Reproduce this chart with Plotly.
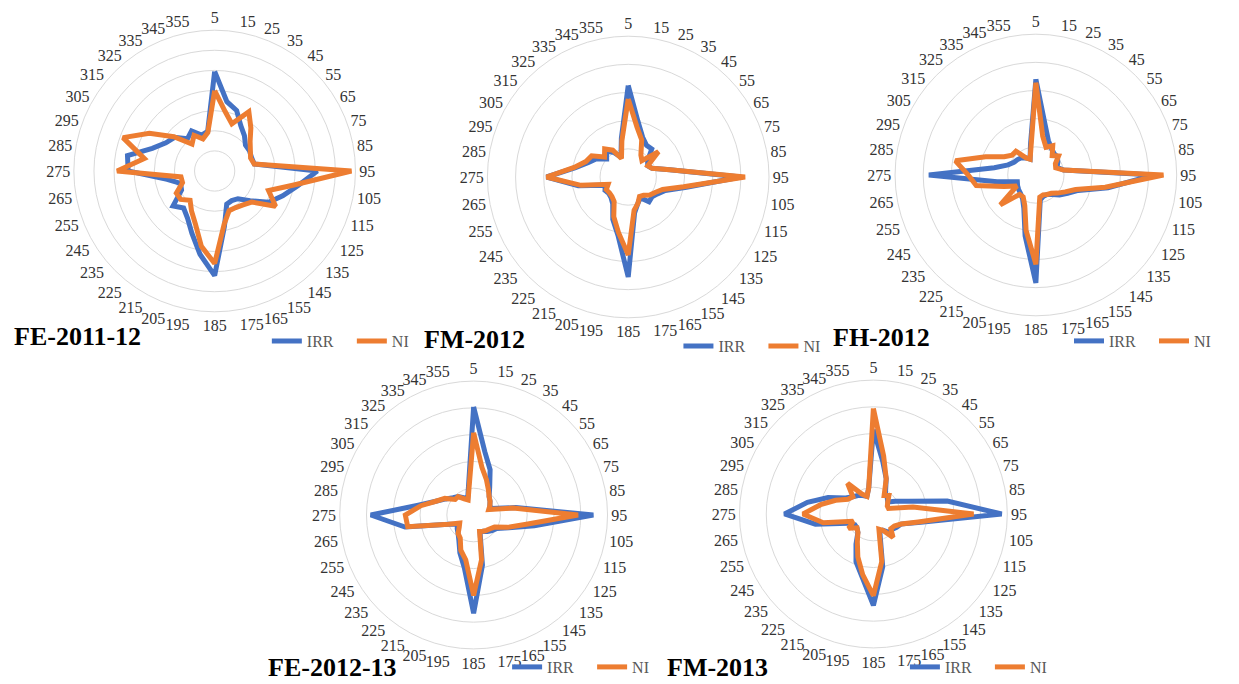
import plotly.graph_objects as go

# ---------------- data ----------------
directions = ["5", "15", "25", "35", "45", "55", "65", "75", "85", "95",
              "105", "115", "125", "135", "145", "155", "165", "175", "185", "195",
              "205", "215", "225", "235", "245", "255", "265", "275", "285", "295",
              "305", "315", "325", "335", "345", "355"]

panel_titles = ["FE-2011-12", "FM-2012", "FH-2012", "FE-2012-13", "FM-2013"]
series_names = ["IRR", "NI"]

irr_fe_2011_12 = [4.95, 3.5, 3.2, 2.6, 2.3, 2.0, 2.0, 1.95, 2.0, 5.1, 4.2, 3.6, 3.1, 2.3, 1.8, 1.7, 1.75, 2.8,
                  5.2, 4.2, 3.3, 2.7, 2.4, 2.7, 1.9, 1.8, 2.4, 4.3, 4.4, 3.3, 2.8, 2.6, 2.1, 2.3, 1.9, 2.0]
ni_fe_2011_12 = [4.0, 3.0, 2.5, 3.4, 2.8, 2.3, 2.05, 1.9, 2.0, 6.8, 4.0, 2.85, 3.5, 2.4, 2.2, 2.1, 2.1, 2.7,
                 4.6, 3.8, 2.8, 2.3, 1.9, 2.2, 2.2, 1.7, 1.7, 4.85, 3.55, 4.85, 3.75, 2.65, 1.75, 2.05, 1.7, 1.95]

irr_fm_2012 = [3.25, 2.0, 1.5, 1.3, 1.3, 0.9, 0.8, 0.9, 1.5, 4.0, 2.1, 1.4, 1.2, 1.1, 1.15, 0.85, 1.0, 1.3,
               3.55, 2.1, 1.6, 1.1, 0.95, 0.9, 0.95, 0.85, 1.8, 2.9, 1.9, 1.5, 1.3, 1.0, 1.2, 1.0, 0.75, 1.4]
ni_fm_2012 = [2.77, 1.8, 1.4, 0.9, 0.76, 1.4, 0.8, 0.9, 1.5, 4.15, 2.0, 1.3, 1.1, 1.0, 0.85, 0.8, 1.0, 1.2,
              2.77, 2.0, 1.5, 1.0, 0.9, 0.87, 0.9, 0.76, 1.7, 2.9, 1.95, 1.6, 1.5, 1.1, 1.3, 1.1, 0.7, 1.3]

irr_fh_2012 = [3.4, 1.85, 1.3, 1.1, 1.0, 1.0, 0.9, 0.8, 1.0, 4.2, 2.6, 1.6, 1.3, 1.1, 0.9, 0.8, 0.8, 0.9,
               3.83, 2.2, 1.25, 0.95, 0.85, 0.8, 0.75, 0.7, 1.4, 3.8, 1.5, 1.05, 0.9, 0.85, 0.8, 0.7, 0.6, 1.1]
ni_fh_2012 = [3.28, 1.4, 1.05, 1.2, 0.9, 1.05, 0.8, 0.75, 1.0, 4.53, 2.5, 1.5, 1.2, 1.0, 0.85, 0.8, 0.75, 0.8,
              3.17, 2.0, 1.15, 0.9, 0.9, 1.65, 0.78, 1.2, 2.15, 2.4, 2.9, 1.9, 1.3, 1.1, 1.1, 0.7, 0.6, 1.0]

irr_fe_2012_13 = [4.04, 2.4, 1.8, 1.2, 0.9, 0.8, 0.7, 0.7, 1.6, 4.47, 2.3, 1.4, 1.0, 0.9, 0.8, 0.7, 0.7, 1.9,
                  3.67, 2.0, 1.5, 1.1, 0.9, 0.8, 0.7, 1.0, 2.6, 3.84, 2.1, 1.5, 1.2, 1.0, 0.9, 0.75, 0.65, 1.1]
ni_fe_2012_13 = [3.07, 1.8, 1.4, 1.1, 0.9, 0.8, 0.7, 0.6, 1.5, 3.9, 2.0, 1.35, 0.9, 0.8, 0.75, 0.7, 0.65, 1.7,
                 3.0, 1.7, 1.4, 1.0, 0.9, 0.7, 0.6, 1.0, 2.5, 2.55, 2.0, 1.5, 1.24, 0.9, 0.9, 0.7, 0.6, 1.0]

irr_fm_2013 = [3.15, 2.0, 1.4, 0.9, 0.8, 0.7, 0.95, 1.4, 2.8, 4.79, 1.8, 1.1, 1.0, 0.9, 0.9, 0.7, 0.7, 2.0,
               3.41, 2.4, 1.9, 1.3, 0.9, 0.8, 0.8, 1.0, 2.2, 3.32, 2.5, 1.8, 1.2, 1.0, 0.9, 0.8, 0.7, 1.0]
ni_fm_2013 = [3.94, 2.2, 1.4, 0.8, 0.9, 0.7, 0.6, 0.6, 1.5, 3.74, 1.7, 1.1, 0.9, 0.85, 1.14, 0.7, 0.6, 1.8,
              3.05, 2.3, 1.7, 1.2, 0.9, 0.8, 1.07, 0.8, 1.9, 2.63, 2.0, 1.5, 1.1, 1.0, 1.5, 0.86, 0.7, 1.0]

irr_series = [irr_fe_2011_12, irr_fm_2012, irr_fh_2012, irr_fe_2012_13, irr_fm_2013]
ni_series = [ni_fe_2011_12, ni_fm_2012, ni_fh_2012, ni_fe_2012_13, ni_fm_2013]
radial_max = [7, 5, 5, 5, 5]

# ---------------- layout settings ----------------
W, H = 1239, 684
radii = [143, 143, 143, 136, 136]
centers = [(218, 171), (638, 177), (1052, 175), (481, 515), (887, 514)]
# (x left, y) in px from top-left; bottom-row items are anchored at their bottom edge
title_pos = [(12, 336, "middle"), (429, 339, "middle"), (844, 337, "middle"),
             (270, 684, "bottom"), (675, 684, "bottom")]
legend_pos = [(271, 341, "middle"), (689, 346, "middle"), (1086, 341, "middle"),
              (515, 684, "bottom"), (919, 684, "bottom")]

BLUE = "#4472C4"
ORANGE = "#ED7D31"
GRID = "#d9d9d9"
SERIF = "Liberation Serif"

fig = go.Figure()
layout = dict(
    width=W, height=H,
    margin=dict(l=0, r=0, t=0, b=0),
    paper_bgcolor="white",
    plot_bgcolor="white",
    showlegend=True,
    annotations=[],
)

for k in range(5):
    pname = "polar" if k == 0 else f"polar{k + 1}"
    lname = "legend" if k == 0 else f"legend{k + 1}"
    theta_closed = directions + directions[:1]
    for name, vals, col in ((series_names[0], irr_series[k], BLUE),
                            (series_names[1], ni_series[k], ORANGE)):
        fig.add_trace(go.Scatterpolar(
            r=vals + vals[:1], theta=theta_closed,
            mode="lines", name=name,
            line=dict(color=col, width=5),
            subplot=pname, legend=lname,
            hoverinfo="skip",
        ))
    cx, cy = centers[k]
    R = radii[k]
    layout[pname] = dict(
        domain=dict(x=[(cx - R) / W, (cx + R) / W],
                    y=[(H - cy - R) / H, (H - cy + R) / H]),
        bgcolor="white",
        radialaxis=dict(range=[0, radial_max[k]], dtick=1, showticklabels=False,
                        ticks="", showline=False, gridcolor=GRID, gridwidth=1),
        angularaxis=dict(type="category", categoryarray=directions,
                         rotation=90, direction="clockwise",
                         showgrid=False, showline=True, linecolor=GRID, linewidth=1,
                         ticks="", tickfont=dict(family=SERIF, size=16, color="#333333")),
    )
    lx, ly, lanc = legend_pos[k]
    layout[lname] = dict(
        x=lx / W, y=(H - ly) / H, xanchor="left", yanchor=lanc,
        orientation="h", bgcolor="rgba(0,0,0,0)",
        font=dict(family=SERIF, size=16, color="#595959"),
        itemwidth=30, tracegroupgap=0,
        entrywidth=40, entrywidthmode="pixels",
    )
    tx, ty, tanc = title_pos[k]
    layout["annotations"].append(dict(
        text="<b>" + panel_titles[k] + "</b>", x=tx / W, y=(H - ty) / H,
        xref="paper", yref="paper", xanchor="left", yanchor=tanc,
        showarrow=False, font=dict(family=SERIF, size=26, color="black"),
    ))

fig.update_layout(**layout)
fig.write_html("out.html")
